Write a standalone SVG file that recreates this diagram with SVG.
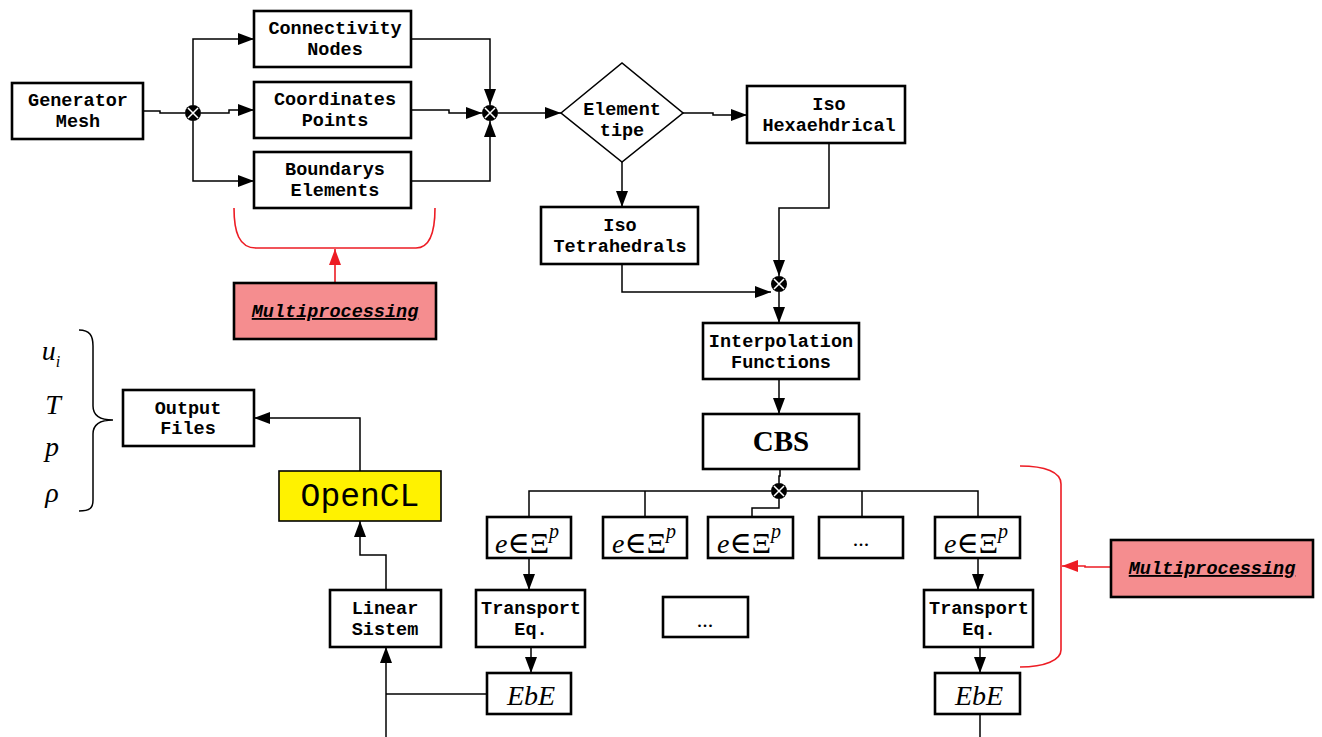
<svg xmlns="http://www.w3.org/2000/svg" width="1322" height="737" viewBox="0 0 1322 737">
<defs>
<style>
.box{fill:#fff;stroke:#000;stroke-width:2.6}
.mp{fill:#F58D8F;stroke:#000;stroke-width:2.6}
.yl{fill:#FFF200;stroke:#000;stroke-width:1.6}
.t{font-family:"Liberation Mono","Courier New",monospace;font-weight:bold;font-size:18.5px;text-anchor:middle;fill:#000}
.ti{font-family:"Liberation Mono","Courier New",monospace;font-weight:bold;font-style:italic;font-size:18.5px;text-anchor:middle;text-decoration:underline;fill:#000}
.m{font-family:"Liberation Serif","DejaVu Serif",serif;font-style:italic;font-size:28px;text-anchor:middle;fill:#000}
.up{font-style:normal;font-size:30px}
.c{fill:none;stroke:#000;stroke-width:1.5}
.r{fill:none;stroke:#ED1C24;stroke-width:1.6}
</style>
<marker id="ah" viewBox="0 0 16 12" refX="16" refY="6" markerWidth="16" markerHeight="12" markerUnits="userSpaceOnUse" orient="auto"><path d="M0,0 L16,6 L0,12 z" fill="#000"/></marker>
<marker id="ahr" viewBox="0 0 16 12" refX="16" refY="6" markerWidth="16" markerHeight="12" markerUnits="userSpaceOnUse" orient="auto"><path d="M0,0 L16,6 L0,12 z" fill="#ED1C24"/></marker>
<g id="jx"><circle r="8" fill="#000"/><path d="M-5,-5 L5,5 M5,-5 L-5,5" stroke="#fff" stroke-width="1.5"/></g>
</defs>

<g id="connectors">
<path class="c" d="M143,111 H160 V113 H185"/>
<path class="c" d="M193,105 V39 H254" marker-end="url(#ah)"/>
<path class="c" d="M201,113 H229 V110 H254" marker-end="url(#ah)"/>
<path class="c" d="M193,121 V181 H254" marker-end="url(#ah)"/>
<path class="c" d="M411,39 H490 V105" marker-end="url(#ah)"/>
<path class="c" d="M411,110 H449 V113 H482" marker-end="url(#ah)"/>
<path class="c" d="M411,181 H490 V121" marker-end="url(#ah)"/>
<path class="c" d="M498,113 H561" marker-end="url(#ah)"/>
<path class="c" d="M683,113 H713 V115 H747" marker-end="url(#ah)"/>
<path class="c" d="M622,162 V207" marker-end="url(#ah)"/>
<path class="c" d="M829,143 V208 H779 V276" marker-end="url(#ah)"/>
<path class="c" d="M622,264 V292 H771" marker-end="url(#ah)"/>
<path class="c" d="M779,292 V323" marker-end="url(#ah)"/>
<path class="c" d="M779,379 V414" marker-end="url(#ah)"/>
<path class="c" d="M780,469 V476 H779 V483"/>
<path class="c" d="M529,517 V491 H771 M787,491 H978 V517 M645,491 V517 M862,491 V517 M779,499 V508 H752 V517"/>
<path class="c" d="M529,558 V590" marker-end="url(#ah)"/>
<path class="c" d="M531,647 V673" marker-end="url(#ah)"/>
<path class="c" d="M978,558 V590" marker-end="url(#ah)"/>
<path class="c" d="M980,647 V673" marker-end="url(#ah)"/>
<path class="c" d="M980,714 V737"/>
<path class="c" d="M487,694 H386"/>
<path class="c" d="M386,737 V647" marker-end="url(#ah)"/>
<path class="c" d="M386,590 V555 H360 V521" marker-end="url(#ah)"/>
<path class="c" d="M360,471 V418 H254" marker-end="url(#ah)"/>
<path class="r" d="M335,283 V249" marker-end="url(#ahr)"/>
<path class="r" d="M1111,567 H1085 V566 H1062" marker-end="url(#ahr)"/>
<path class="r" d="M234,208 C234,232 239,248 256,248 H416 C430,248 435,232 435,208"/>
<path class="r" d="M1020,466 C1045,466 1061,472 1061,484 V650 C1061,660 1045,667 1020,667"/>
<path class="c" d="M79,330 C90,330 93,336 93,346 V406 C93,415 100,420 113,420 C100,420 93,425 93,434 V500 C93,508 90,511 79,511" stroke-width="1.6"/>
</g>

<use href="#jx" x="193" y="113"/>
<use href="#jx" x="490" y="113"/>
<use href="#jx" x="779" y="284"/>
<use href="#jx" x="779" y="491"/>

<g id="generator"><rect class="box" x="12" y="83" width="131" height="56"/><text class="t" x="78" y="106">Generator</text><text class="t" x="78" y="127">Mesh</text></g>
<g id="connectivity"><rect class="box" x="254" y="11" width="157" height="56"/><text class="t" x="335" y="34">Connectivity</text><text class="t" x="335" y="55">Nodes</text></g>
<g id="coordinates"><rect class="box" x="254" y="82" width="157" height="56"/><text class="t" x="335" y="105">Coordinates</text><text class="t" x="335" y="126">Points</text></g>
<g id="boundarys"><rect class="box" x="254" y="152" width="157" height="56"/><text class="t" x="335" y="175">Boundarys</text><text class="t" x="335" y="196">Elements</text></g>
<g id="element-tipe"><path d="M561,113 L622,63 L683,113 L622,162 Z" fill="#fff" stroke="#000" stroke-width="1.6"/><text class="t" x="622" y="115">Element</text><text class="t" x="622" y="136">tipe</text></g>
<g id="iso-hex"><rect class="box" x="747" y="86" width="158" height="57"/><text class="t" x="829" y="110">Iso</text><text class="t" x="829" y="131">Hexaehdrical</text></g>
<g id="iso-tet"><rect class="box" x="541" y="207" width="157" height="57"/><text class="t" x="620" y="231">Iso</text><text class="t" x="620" y="252">Tetrahedrals</text></g>
<g id="multiproc-1"><rect class="mp" x="234" y="283" width="202" height="56"/><text class="ti" x="335" y="317">Multiprocessing</text></g>
<g id="interpolation"><rect class="box" x="703" y="323" width="156" height="56"/><text class="t" x="781" y="347">Interpolation</text><text class="t" x="781" y="368">Functions</text></g>
<g id="cbs"><rect class="box" x="703" y="414" width="156" height="55"/><text x="781" y="451" font-family="'Liberation Serif','DejaVu Serif',serif" font-weight="bold" font-size="29" text-anchor="middle">CBS</text></g>
<g id="output"><rect class="box" x="123" y="390" width="131" height="56" stroke-width="2"/><text class="t" x="188" y="414" font-size="17.5">Output</text><text class="t" x="188" y="434" font-size="17.5">Files</text></g>
<g id="vars"><text class="m" x="51" y="360">u<tspan font-size="16" dy="7">i</tspan></text><text class="m" x="53" y="414">T</text><text class="m" x="52" y="456">p</text><text class="m" x="52" y="502">ρ</text></g>
<g id="opencl"><rect class="yl" x="279" y="471" width="162" height="50"/><text x="360" y="506" font-family="'Liberation Mono','Courier New',monospace" font-size="33" text-anchor="middle">OpenCL</text></g>
<g id="e1"><rect class="box" x="487" y="517" width="84" height="41"/><text class="m" x="527" y="553" font-size="34">e<tspan class="up">∈Ξ</tspan><tspan font-size="20" dy="-15">p</tspan></text></g>
<g id="e2"><rect class="box" x="603" y="517" width="84" height="41" stroke-width="2"/><text class="m" x="644" y="553" font-size="34">e<tspan class="up">∈Ξ</tspan><tspan font-size="20" dy="-15">p</tspan></text></g>
<g id="e3"><rect class="box" x="708" y="517" width="85" height="41" stroke-width="2"/><text class="m" x="749" y="553" font-size="34">e<tspan class="up">∈Ξ</tspan><tspan font-size="20" dy="-15">p</tspan></text></g>
<g id="e4"><rect class="box" x="819" y="517" width="84" height="41" stroke-width="2"/><text x="861" y="546" font-family="'Liberation Serif',serif" font-size="22" text-anchor="middle">...</text></g>
<g id="e5"><rect class="box" x="935" y="517" width="85" height="41" stroke-width="2"/><text class="m" x="976" y="553" font-size="34">e<tspan class="up">∈Ξ</tspan><tspan font-size="20" dy="-15">p</tspan></text></g>
<g id="multiproc-2"><rect class="mp" x="1111" y="540" width="202" height="57"/><text class="ti" x="1212" y="574">Multiprocessing</text></g>
<g id="linear"><rect class="box" x="330" y="590" width="111" height="57"/><text class="t" x="385" y="614">Linear</text><text class="t" x="385" y="635">Sistem</text></g>
<g id="transport-1"><rect class="box" x="476" y="590" width="109" height="57"/><text class="t" x="531" y="614">Transport</text><text class="t" x="531" y="635">Eq.</text></g>
<g id="dots"><rect class="box" x="663" y="597" width="85" height="40"/><text x="705" y="627" font-family="'Liberation Serif',serif" font-size="22" text-anchor="middle">...</text></g>
<g id="transport-2"><rect class="box" x="924" y="590" width="109" height="57"/><text class="t" x="979" y="614">Transport</text><text class="t" x="979" y="635">Eq.</text></g>
<g id="ebe-1"><rect class="box" x="487" y="673" width="84" height="41"/><text class="m" x="531" y="705">EbE</text></g>
<g id="ebe-2"><rect class="box" x="935" y="673" width="85" height="41"/><text class="m" x="979" y="705">EbE</text></g>
</svg>
